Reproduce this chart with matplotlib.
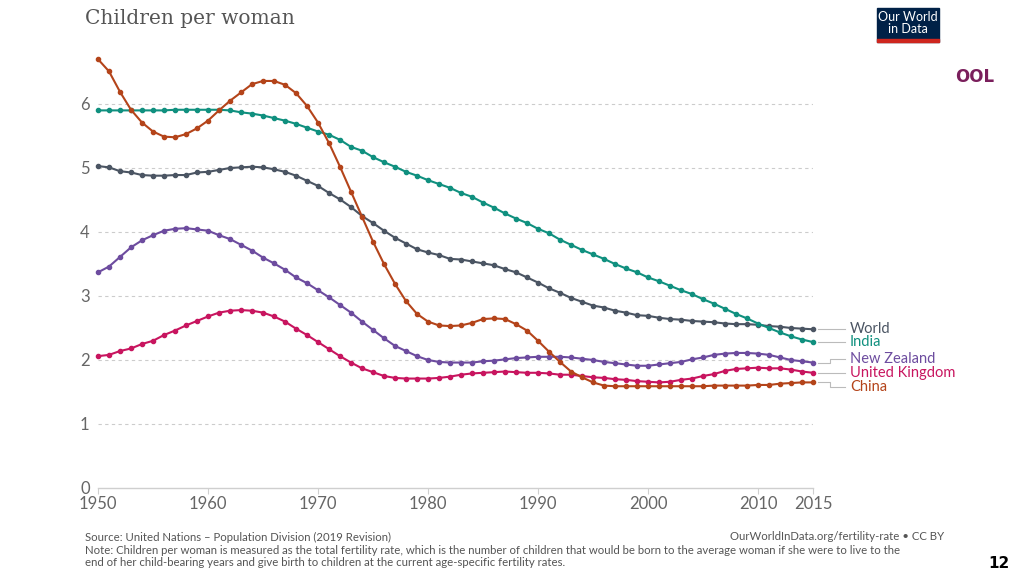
import numpy as np
import matplotlib
matplotlib.use('Agg')
import matplotlib.pyplot as plt
import matplotlib.patches as pc

# Data: children per woman, 1950-2015
years = list(range(1950, 2016))

world = [5.03, 5.01, 4.95, 4.93, 4.89, 4.88, 4.88, 4.89, 4.89, 4.93,
         4.94, 4.97, 5.00, 5.01, 5.02, 5.01, 4.98, 4.94, 4.88, 4.80,
         4.72, 4.61, 4.51, 4.39, 4.25, 4.14, 4.02, 3.91, 3.82, 3.73,
         3.68, 3.64, 3.58, 3.57, 3.54, 3.51, 3.48, 3.42, 3.37, 3.29,
         3.21, 3.12, 3.05, 2.97, 2.91, 2.85, 2.82, 2.77, 2.74, 2.70,
         2.69, 2.66, 2.64, 2.63, 2.61, 2.60, 2.59, 2.57, 2.56, 2.56,
         2.55, 2.53, 2.52, 2.50, 2.49, 2.48]

india = [5.90, 5.90, 5.90, 5.90, 5.90, 5.90, 5.90, 5.91, 5.91, 5.91,
         5.91, 5.91, 5.90, 5.87, 5.85, 5.82, 5.78, 5.74, 5.69, 5.63,
         5.57, 5.52, 5.44, 5.33, 5.27, 5.17, 5.09, 5.02, 4.94, 4.88,
         4.81, 4.75, 4.69, 4.61, 4.55, 4.46, 4.38, 4.29, 4.21, 4.14,
         4.05, 3.98, 3.88, 3.80, 3.72, 3.65, 3.58, 3.50, 3.43, 3.37,
         3.29, 3.23, 3.16, 3.09, 3.03, 2.95, 2.88, 2.80, 2.72, 2.65,
         2.57, 2.50, 2.43, 2.37, 2.32, 2.28]

new_zealand = [3.37, 3.46, 3.61, 3.76, 3.87, 3.95, 4.02, 4.05, 4.06, 4.04,
               4.02, 3.95, 3.89, 3.80, 3.71, 3.60, 3.51, 3.41, 3.29, 3.20,
               3.09, 2.98, 2.86, 2.74, 2.60, 2.47, 2.34, 2.22, 2.14, 2.06,
               2.00, 1.97, 1.96, 1.96, 1.96, 1.98, 1.99, 2.01, 2.03, 2.04,
               2.05, 2.05, 2.05, 2.04, 2.02, 2.00, 1.97, 1.95, 1.93, 1.91,
               1.91, 1.93, 1.95, 1.97, 2.01, 2.04, 2.08, 2.10, 2.11, 2.11,
               2.10, 2.08, 2.04, 2.00, 1.98, 1.96]

united_kingdom = [2.06, 2.08, 2.14, 2.18, 2.25, 2.30, 2.39, 2.46, 2.54, 2.61,
                  2.68, 2.74, 2.77, 2.78, 2.77, 2.74, 2.68, 2.60, 2.49, 2.39,
                  2.28, 2.17, 2.06, 1.96, 1.87, 1.81, 1.75, 1.72, 1.71, 1.71,
                  1.71, 1.72, 1.74, 1.77, 1.79, 1.80, 1.81, 1.82, 1.81, 1.80,
                  1.80, 1.79, 1.77, 1.77, 1.75, 1.73, 1.72, 1.70, 1.69, 1.67,
                  1.66, 1.65, 1.66, 1.69, 1.71, 1.75, 1.78, 1.83, 1.86, 1.87,
                  1.88, 1.87, 1.87, 1.85, 1.82, 1.80]

china = [6.70, 6.51, 6.19, 5.91, 5.71, 5.57, 5.49, 5.48, 5.53, 5.62,
         5.74, 5.90, 6.05, 6.18, 6.31, 6.36, 6.36, 6.30, 6.17, 5.97,
         5.71, 5.39, 5.02, 4.63, 4.24, 3.85, 3.50, 3.19, 2.92, 2.72,
         2.60, 2.54, 2.53, 2.54, 2.58, 2.64, 2.65, 2.64, 2.56, 2.46,
         2.30, 2.13, 1.97, 1.82, 1.73, 1.65, 1.60, 1.59, 1.59, 1.59,
         1.59, 1.59, 1.59, 1.59, 1.59, 1.59, 1.60, 1.60, 1.60, 1.60,
         1.61, 1.61, 1.63, 1.64, 1.65, 1.65]

names = ["World", "India", "New Zealand", "United Kingdom", "China"]
series = [world, india, new_zealand, united_kingdom, china]
colors = ['#4b5563', '#10907f', '#6d4c9f', '#c8155f', '#b4441a']
# label heights (children per woman) where the end labels sit
label_y = [2.48, 2.28, 2.01, 1.80, 1.58]

W, H = 1024, 576
fig = plt.figure(figsize=(10.24, 5.76), dpi=100)
ax = fig.add_axes([98/W, (576-488)/H, (813-98)/W, (488-52.8)/H])

for s, c in zip(series, colors):
    ax.plot(years, s, color=c, lw=1.5, marker='o', ms=3, clip_on=False, zorder=3)

ax.set_xlim(1950, 2015)
ax.set_ylim(0, 6.8)
ax.set_yticks([0, 1, 2, 3, 4, 5, 6])
ax.set_xticks([1950, 1960, 1970, 1980, 1990, 2000, 2010, 2015])
for yv in [1, 2, 3, 4, 5, 6]:
    ax.axhline(yv, color='#cccccc', lw=0.8, ls=(0, (3, 3)), zorder=1)
for side in ['top', 'right', 'left']:
    ax.spines[side].set_visible(False)
ax.spines['bottom'].set_color('#cfcfcf')
ax.spines['bottom'].set_linewidth(1)
ax.tick_params(axis='y', length=0, pad=6, labelsize=12, labelcolor='#666666')
ax.tick_params(axis='x', length=4, color='#cfcfcf', pad=2, labelsize=12, labelcolor='#666666')
for lab in ax.get_xticklabels() + ax.get_yticklabels():
    lab.set_family('Lato')

# end labels with connector lines
px = lambda p: 1950 + (p - 98) / 11.0
for name, s, c, ly in zip(names, series, colors, label_y):
    ey = s[-1]
    xs = [px(818), px(830), px(830), px(845)]
    ax.plot(xs, [ey, ey, ly, ly], color='#bbbbbb', lw=0.8, clip_on=False)
    ax.text(px(850), ly, name, color=c, fontsize=10.5, family='Lato', va='center', ha='left')

fig.text(85/W, 1 - 18/H, "Children per woman", fontsize=14.5, color='#555555',
         family='DejaVu Serif', va='center', ha='left')

# logo
fig.add_artist(pc.Rectangle((877/W, 1 - 42/H), 62/W, 34/H, color='#002147', transform=fig.transFigure))
fig.add_artist(pc.Rectangle((877/W, 1 - 42/H), 62/W, 3/H, color='#ce261e', transform=fig.transFigure))
fig.text(908/W, 1 - 23/H, "Our World\nin Data", color='white', fontsize=9, family='Lato',
         ha='center', va='center', linespacing=1.0)

fig.text(975/W, 1 - 77/H, "OOL", color='#7a1f5c', fontsize=12, fontweight='bold',
         family='DejaVu Sans', ha='center', va='center')
fig.text(999/W, 1 - 563/H, "12", color='black', fontsize=11, fontweight='bold',
         family='DejaVu Sans', ha='center', va='center')

fig.text(85/W, 1 - 537/H, "Source: United Nations \u2013 Population Division (2019 Revision)",
         fontsize=8.2, color='#555555', family='Lato', va='center')
fig.text(944/W, 1 - 537/H, "OurWorldInData.org/fertility-rate \u2022 CC BY",
         fontsize=8.2, color='#555555', family='Lato', va='center', ha='right')
fig.text(85/W, 1 - 556.5/H,
         "Note: Children per woman is measured as the total fertility rate, which is the number of children that would be born to the average woman if she were to live to the\n"
         "end of her child-bearing years and give birth to children at the current age-specific fertility rates.",
         fontsize=8.2, color='#555555', family='Lato', va='center', linespacing=1.15)

fig.savefig('out.png', dpi=100)
